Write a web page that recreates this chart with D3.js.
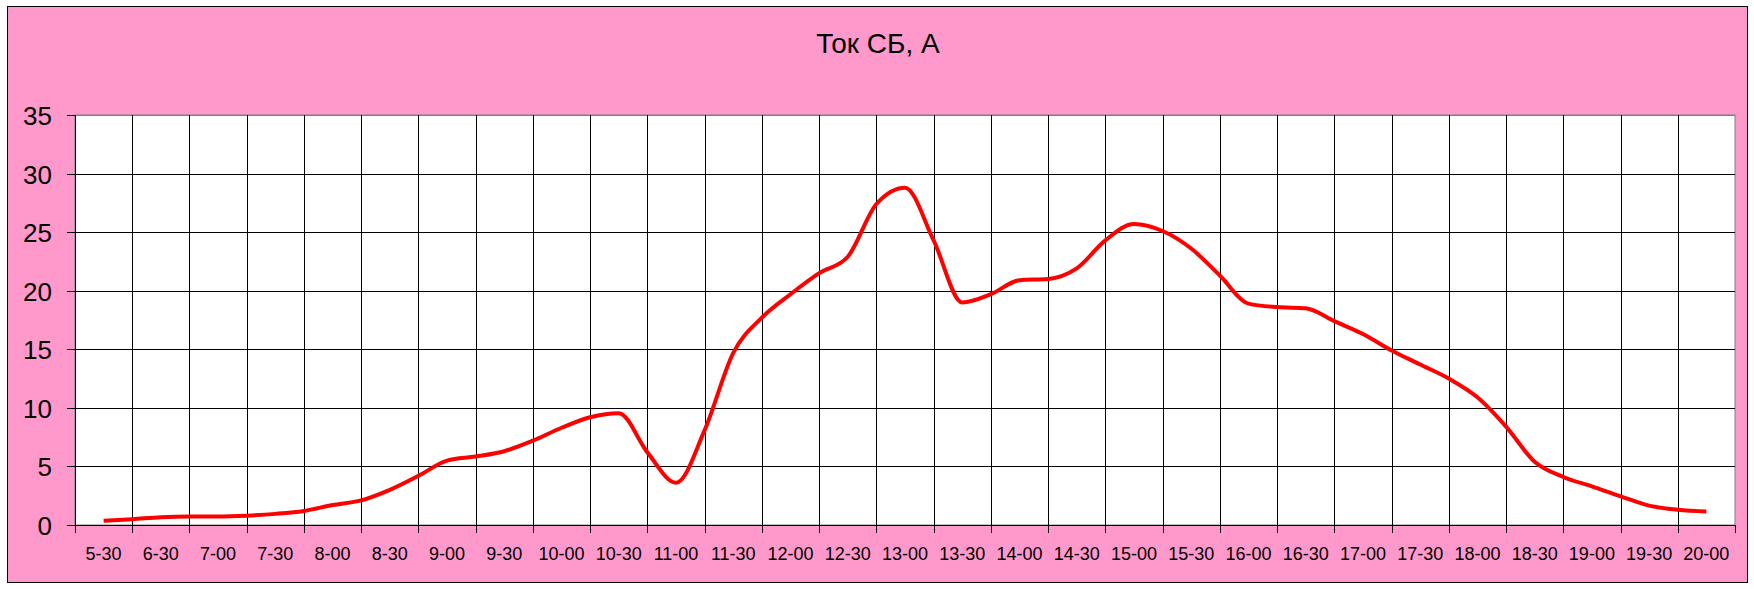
<!DOCTYPE html>
<html>
<head>
<meta charset="utf-8">
<script src="https://cdn.jsdelivr.net/npm/d3@7"></script>
<style>
  html, body { margin: 0; padding: 0; background: #ffffff; }
  svg { display: block; }
</style>
</head>
<body>
<svg id="chart" width="1754" height="589"></svg>
<script>
// ---- data ----
const title = "Ток СБ, А";
const timeLabels = ["5-30","6-30","7-00","7-30","8-00","8-30","9-00","9-30","10-00","10-30",
  "11-00","11-30","12-00","12-30","13-00","13-30","14-00","14-30","15-00","15-30",
  "16-00","16-30","17-00","17-30","18-00","18-30","19-00","19-30","20-00"];
// readings every half label-step (label centres and the points between them)
const current = [0.37,0.5,0.67,0.73,0.73,0.8,0.95,1.2,1.7,2.1,
  3.0,4.2,5.5,5.85,6.3,7.2,8.3,9.2,9.55,6.2,
  3.6,8.1,14.7,17.7,19.7,21.5,22.9,27.4,28.8,24.3,
  19.0,19.7,20.9,21.0,21.9,24.3,25.7,25.1,23.6,21.3,
  18.9,18.6,18.5,17.4,16.3,14.9,13.7,12.5,10.9,8.4,
  5.4,4.1,3.3,2.45,1.65,1.3,1.15];
const yTicks = [0,5,10,15,20,25,30,35];

// ---- layout ----
const svg = d3.select("#chart");
const plot = {left: 75, right: 1735, top: 115, bottom: 525};
const pink = "#FF99CC";
const font = "'Liberation Sans', Arial, sans-serif";

// outer chart area
svg.append("rect").attr("x", 7.5).attr("y", 6.5).attr("width", 1740).attr("height", 576)
  .attr("fill", pink).attr("stroke", "#000").attr("stroke-width", 1);

const x = d3.scaleBand().domain(timeLabels).range([plot.left, plot.right]).padding(0);
const y = d3.scaleLinear().domain([0, 35]).range([plot.bottom, plot.top]);
const bw = x.bandwidth();
const xi = d3.scaleLinear().domain([0, timeLabels.length - 1])
  .range([x(timeLabels[0]) + bw / 2, x(timeLabels[timeLabels.length - 1]) + bw / 2]);

// plot area
svg.append("rect").attr("x", plot.left).attr("y", plot.top)
  .attr("width", plot.right - plot.left).attr("height", plot.bottom - plot.top)
  .attr("fill", "#fff").attr("stroke", "#808080").attr("stroke-width", 1);

// horizontal gridlines
svg.append("g").selectAll("line").data(yTicks.filter(d => d > 0)).join("line")
  .attr("x1", plot.left).attr("x2", plot.right)
  .attr("y1", d => Math.round(y(d)) + 0.5).attr("y2", d => Math.round(y(d)) + 0.5)
  .attr("stroke", d => d === 35 ? "#808080" : "#000").attr("stroke-width", 1);

// vertical gridlines at category boundaries
const bounds = timeLabels.slice(1).map(d => x(d));
svg.append("g").selectAll("line").data(bounds).join("line")
  .attr("x1", d => Math.round(d) + 0.5).attr("x2", d => Math.round(d) + 0.5)
  .attr("y1", plot.top).attr("y2", plot.bottom)
  .attr("stroke", "#000").attr("stroke-width", 1);

// y axis
const yAxis = svg.append("g");
yAxis.append("line").attr("x1", plot.left + 0.5).attr("x2", plot.left + 0.5)
  .attr("y1", plot.top).attr("y2", plot.bottom).attr("stroke", "#000");
yAxis.selectAll("line.tick").data(yTicks).join("line").attr("class", "tick")
  .attr("x1", plot.left - 8).attr("x2", plot.left)
  .attr("y1", d => Math.round(y(d)) + 0.5).attr("y2", d => Math.round(y(d)) + 0.5)
  .attr("stroke", "#000");
yAxis.selectAll("text").data(yTicks).join("text")
  .attr("x", 52).attr("y", d => y(d) + 1)
  .attr("text-anchor", "end").attr("dominant-baseline", "central")
  .attr("font-family", font).attr("font-size", 26).attr("fill", "#000")
  .text(d => d);

// x axis
const xAxis = svg.append("g");
xAxis.append("line").attr("x1", plot.left).attr("x2", plot.right)
  .attr("y1", plot.bottom + 0.5).attr("y2", plot.bottom + 0.5).attr("stroke", "#000");
const tickPos = timeLabels.map(d => x(d)).concat([x(timeLabels[timeLabels.length - 1]) + bw]);
xAxis.selectAll("line.tick").data(tickPos).join("line").attr("class", "tick")
  .attr("x1", d => Math.round(d) + 0.5).attr("x2", d => Math.round(d) + 0.5)
  .attr("y1", plot.bottom).attr("y2", plot.bottom + 8).attr("stroke", "#000");
xAxis.selectAll("text").data(timeLabels).join("text")
  .attr("x", d => x(d) + bw / 2).attr("y", 554)
  .attr("text-anchor", "middle").attr("dominant-baseline", "central")
  .attr("font-family", font).attr("font-size", 18).attr("fill", "#000")
  .text(d => d);

// title
svg.append("text").attr("x", 878).attr("y", 53).attr("text-anchor", "middle")
  .attr("font-family", font).attr("font-size", 28).attr("fill", "#000").text(title);

// series line
const line = d3.line()
  .x((d, i) => xi(i / 2))
  .y(d => y(d))
  .curve(d3.curveMonotoneX);
svg.append("path").datum(current)
  .attr("d", line).attr("fill", "none")
  .attr("stroke", "#FF0000").attr("stroke-width", 4)
  .attr("stroke-linejoin", "round").attr("stroke-linecap", "butt");
</script>
</body>
</html>
